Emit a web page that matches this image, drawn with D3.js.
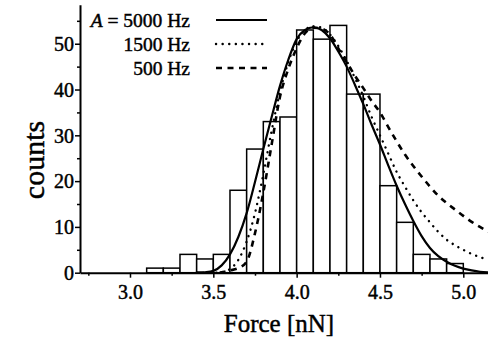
<!DOCTYPE html>
<html>
<head>
<meta charset="utf-8">
<script src="https://cdn.jsdelivr.net/npm/d3@7"></script>
<style>
  html, body { margin: 0; padding: 0; background: #fff; }
  svg { display: block; }
  svg text { font-family: "Liberation Serif", "Times New Roman", serif !important; fill: #000; stroke: #000; stroke-width: 0.45px; }
</style>
</head>
<body>
<svg id="chart" width="488" height="341"></svg>
<script>
// Histogram: left edge of each 0.1 nN bin and its count
const binStarts = [3.1, 3.2, 3.3, 3.4, 3.5, 3.6, 3.7, 3.8, 3.9, 4.0, 4.1, 4.2, 4.3, 4.4, 4.5, 4.6, 4.7, 4.8, 4.9];
const binCounts = [1, 1, 4, 3, 4, 18, 27, 33, 34, 53, 51, 54, 39, 39, 19, 11, 4, 3, 2];
const binWidth = 0.1;

// Fit curves
const fitX = [3.40, 3.45, 3.50, 3.55, 3.60, 3.65, 3.70, 3.75, 3.80, 3.85, 3.90, 3.95, 4.00, 4.05, 4.10, 4.15, 4.20, 4.25, 4.30, 4.35, 4.40, 4.45, 4.50, 4.55, 4.60, 4.65, 4.70, 4.75, 4.80, 4.85, 4.90, 4.95, 5.00, 5.05, 5.10, 5.15];
const fit5000 = [0, 0.1, 0.4, 1.6, 4.0, 7.8, 13.0, 19.8, 27.0, 34.0, 40.8, 46.5, 51.0, 53.0, 53.6, 53.0, 51.2, 48.3, 45.0, 41.0, 36.8, 32.3, 28.0, 23.4, 19.0, 15.0, 11.3, 8.0, 5.4, 3.6, 2.4, 1.5, 0.9, 0.5, 0.2, 0.05];
const fit1500 = [0, 0, 0, 0.1, 0.8, 2.8, 6.8, 13.0, 21.5, 31.0, 39.5, 46.0, 50.5, 53.0, 53.8, 53.5, 52.0, 49.5, 46.3, 42.5, 38.5, 34.0, 30.0, 26.0, 22.0, 18.8, 15.8, 13.2, 11.0, 8.9, 7.2, 6.0, 5.0, 4.1, 3.4, 2.8];
const fit500 = [0, 0, 0, 0.1, 0.5, 1.0, 2.4, 8.6, 17.5, 28.0, 38.4, 44.5, 49.0, 52.3, 53.5, 53.3, 52.0, 49.0, 46.0, 43.0, 40.3, 37.5, 35.0, 31.8, 28.7, 25.8, 23.3, 21.0, 18.8, 16.8, 15.2, 13.8, 12.4, 11.1, 10.0, 9.0];

const legendLabels = ["5000 Hz", "1500 Hz", "500 Hz"];
const xTicks = [3.0, 3.5, 4.0, 4.5, 5.0];
const xMinorTicks = [2.75, 3.25, 3.75, 4.25, 4.75];
const yTicks = [0, 10, 20, 30, 40, 50];
const yMinorTicks = [5, 15, 25, 35, 45, 55];

const svg = d3.select("#chart");
const x = d3.scaleLinear().domain([2.7, 5.15]).range([80, 488.3]);
const y = d3.scaleLinear().domain([0, 58.5]).range([272.7, 4.8]);

svg.append("clipPath").attr("id", "clip")
  .append("rect").attr("x", 80).attr("y", 0).attr("width", 410).attr("height", 273.5);

// bars
svg.append("g").selectAll("rect")
  .data(binStarts.map((s, i) => ({ s, c: binCounts[i] })))
  .join("rect")
  .attr("x", d => x(d.s))
  .attr("y", d => y(d.c))
  .attr("width", d => x(d.s + binWidth) - x(d.s))
  .attr("height", d => y(0) - y(d.c))
  .attr("fill", "#fff")
  .attr("stroke", "#000")
  .attr("stroke-width", 1.5);

// curves
const series = [
  { vals: fit5000, dash: null, w: 2.2, cap: "butt" },
  { vals: fit1500, dash: "0.1,6.5", w: 2.4, cap: "round" },
  { vals: fit500, dash: "6,5.5", w: 2.6, cap: "butt" }
];
const line = d3.line().x(d => x(d[0])).y(d => y(d[1])).curve(d3.curveMonotoneX);
const cg = svg.append("g").attr("clip-path", "url(#clip)");
series.forEach(s => {
  cg.append("path")
    .attr("d", line(fitX.map((v, i) => [v, s.vals[i]])))
    .attr("fill", "none")
    .attr("stroke", "#000")
    .attr("stroke-width", s.w)
    .attr("stroke-linecap", s.cap)
    .attr("stroke-dasharray", s.dash);
});

// axes
const xAxis = svg.append("g").attr("transform", `translate(0,${y(0)})`)
  .call(d3.axisBottom(x).tickValues(xTicks).tickFormat(d3.format(".1f")).tickSize(5).tickSizeOuter(0));
svg.append("g").attr("transform", `translate(0,${y(0)})`)
  .call(d3.axisBottom(x).tickValues(xMinorTicks).tickFormat("").tickSize(3).tickSizeOuter(0))
  .call(g => g.select(".domain").remove());
const yAxis = svg.append("g").attr("transform", `translate(${x(2.7)},0)`)
  .call(d3.axisLeft(y).tickValues(yTicks).tickSize(5).tickSizeOuter(0));
svg.append("g").attr("transform", `translate(${x(2.7)},0)`)
  .call(d3.axisLeft(y).tickValues(yMinorTicks).tickFormat("").tickSize(3).tickSizeOuter(0))
  .call(g => g.select(".domain").remove());

svg.selectAll(".domain").attr("stroke-width", 2);
svg.selectAll(".tick line").attr("stroke-width", 1.5);
svg.selectAll("g").attr("font-family", null);
xAxis.selectAll("text").attr("font-size", 20).attr("dy", null).attr("y", 26);
yAxis.selectAll("text").attr("font-size", 20).attr("x", -6).attr("dy", "0.34em");

// axis titles
svg.append("text").attr("x", 279).attr("y", 332).attr("text-anchor", "middle")
  .attr("font-size", 25).text("Force [nN]");
svg.append("text").attr("transform", "translate(44,160) rotate(-90)").attr("text-anchor", "middle")
  .attr("font-size", 30).text("counts");

// legend
const rowsY = [20, 44, 68];
const lg = svg.append("g");
legendLabels.forEach((lab, i) => {
  const t = lg.append("text").attr("x", 190).attr("y", rowsY[i]).attr("dy", "0.35em")
    .attr("text-anchor", "end").attr("font-size", 19.5);
  if (i === 0) {
    t.append("tspan").attr("font-style", "italic").text("A");
    t.append("tspan").text(" = " + lab);
  } else {
    t.text(lab);
  }
  const s = series[i];
  lg.append("line").attr("x1", 216).attr("x2", 267).attr("y1", rowsY[i]).attr("y2", rowsY[i])
    .attr("stroke", "#000").attr("stroke-width", s.w).attr("stroke-linecap", s.cap)
    .attr("stroke-dasharray", s.dash);
});
</script>
</body>
</html>
